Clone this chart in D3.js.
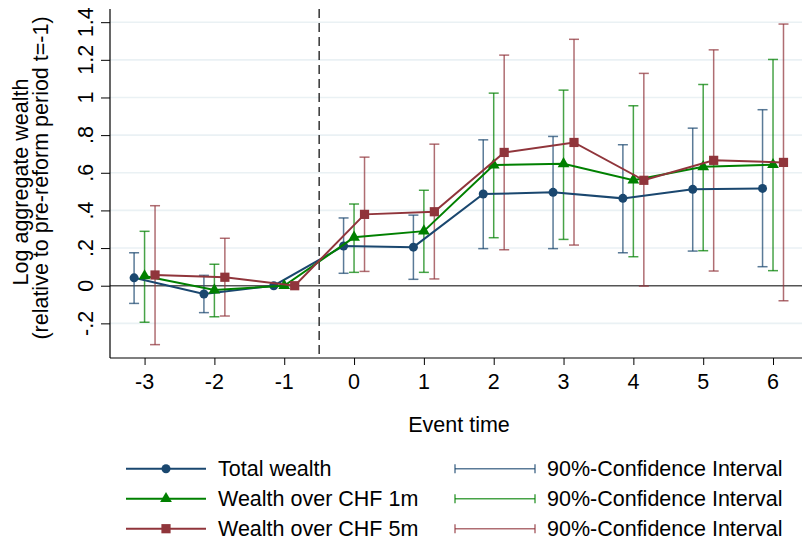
<!DOCTYPE html>
<html>
<head>
<meta charset="utf-8">
<script src="https://cdn.jsdelivr.net/npm/d3@7"></script>
<style>
  body { margin: 0; background: #fff; }
  svg { display: block; }
  text { font-family: "Liberation Sans", Arial, Helvetica, sans-serif; fill: #000; }
</style>
</head>
<body>
<svg id="chart" width="804" height="545"></svg>
<script>
// ---- Data ----
const eventTimes = [-3, -2, -1, 0, 1, 2, 3, 4, 5, 6];

const totalWealth   = [0.042, -0.044, 0, 0.211, 0.205, 0.487, 0.496, 0.464, 0.512, 0.517];
const totalLo       = [-0.094, -0.143, 0, 0.066, 0.034, 0.197, 0.197, 0.175, 0.184, 0.101];
const totalHi       = [0.175, 0.055, 0, 0.360, 0.375, 0.775, 0.793, 0.749, 0.837, 0.935];

const over1m        = [0.052, -0.023, 0, 0.257, 0.290, 0.641, 0.648, 0.561, 0.632, 0.643];
const over1mLo      = [-0.194, -0.165, 0, 0.071, 0.071, 0.255, 0.246, 0.154, 0.186, 0.080];
const over1mHi      = [0.289, 0.114, 0, 0.434, 0.507, 1.023, 1.039, 0.956, 1.069, 1.202];

const over5m        = [0.057, 0.045, 0, 0.379, 0.393, 0.708, 0.761, 0.560, 0.666, 0.655];
const over5mLo      = [-0.313, -0.161, 0, 0.076, 0.036, 0.191, 0.216, -0.002, 0.078, -0.080];
const over5mHi      = [0.425, 0.252, 0, 0.683, 0.752, 1.225, 1.309, 1.128, 1.253, 1.390];

const seriesNames   = ["Total wealth", "Wealth over CHF 1m", "Wealth over CHF 5m"];
const ciLabel       = "90%-Confidence Interval";
const yTickValues   = [-0.2, 0, 0.2, 0.4, 0.6, 0.8, 1, 1.2, 1.4];
const yTickLabels   = ["-.2", "0", ".2", ".4", ".6", ".8", "1", "1.2", "1.4"];
const xTickValues   = [-3, -2, -1, 0, 1, 2, 3, 4, 5, 6];
const reformLine    = -0.5;
const xTitle        = "Event time";
const yTitle1       = "Log aggregate wealth";
const yTitle2       = "(relative to pre-reform period t=-1)";

// ---- Layout ----
const colors = ["#1a476f", "#008000", "#90353b"];
const shapes = ["circle", "triangle", "square"];
const offsets = [-0.15, 0, 0.15];
const FS = 21.5;

const svg = d3.select("#chart");
const pL = 110, pR = 802, pT = 9, pB = 358;

const x = d3.scaleLinear().domain([-3.495, 6.415]).range([pL, pR]);
const y = d3.scaleLinear().domain([-0.384, 1.47]).range([pB, pT]);

const series = [
  { name: seriesNames[0], v: totalWealth, lo: totalLo, hi: totalHi },
  { name: seriesNames[1], v: over1m, lo: over1mLo, hi: over1mHi },
  { name: seriesNames[2], v: over5m, lo: over5mLo, hi: over5mHi }
];

// Grid lines
svg.append("g").selectAll("line").data(yTickValues.filter(d => d !== 0)).join("line")
  .attr("x1", pL).attr("x2", pR)
  .attr("y1", d => y(d)).attr("y2", d => y(d))
  .attr("stroke", "#eaf1f4").attr("stroke-width", 1.6);

// Zero line
svg.append("line").attr("x1", pL).attr("x2", pR)
  .attr("y1", y(0)).attr("y2", y(0))
  .attr("stroke", "#555").attr("stroke-width", 1.5);

// Y axis
const yAxis = d3.axisLeft(y).tickValues(yTickValues).tickSize(9).tickFormat("");
const gy = svg.append("g").attr("transform", `translate(${pL},0)`).call(yAxis);
gy.select(".domain").remove();
gy.selectAll(".tick line").attr("stroke", "#000").attr("stroke-width", 1);
svg.append("line").attr("x1", pL).attr("x2", pL).attr("y1", pT).attr("y2", pB)
  .attr("stroke", "#000").attr("stroke-width", 1.2);
svg.append("g").selectAll("text").data(yTickValues).join("text")
  .attr("x", 93).attr("y", d => y(d))
  .attr("transform", d => `rotate(-90,93,${y(d)})`)
  .attr("text-anchor", "middle")
  .attr("font-size", FS)
  .text((d, i) => yTickLabels[i]);

// X axis
const xAxis = d3.axisBottom(x).tickValues(xTickValues).tickSize(7).tickFormat("");
const gx = svg.append("g").attr("transform", `translate(0,${pB})`).call(xAxis);
gx.select(".domain").remove();
gx.selectAll(".tick line").attr("stroke", "#000").attr("stroke-width", 1);
svg.append("line").attr("x1", pL).attr("x2", pR).attr("y1", pB).attr("y2", pB)
  .attr("stroke", "#000").attr("stroke-width", 1.2);
svg.append("g").selectAll("text").data(xTickValues).join("text")
  .attr("x", d => x(d)).attr("y", 389)
  .attr("text-anchor", "middle").attr("font-size", FS)
  .text(d => String(d));

// Reform line
svg.append("line").attr("x1", x(reformLine)).attr("x2", x(reformLine))
  .attr("y1", pT).attr("y2", pB)
  .attr("stroke", "#000").attr("stroke-width", 1.2).attr("stroke-dasharray", "9,5");

// Titles
svg.append("text").attr("x", (pL + pR) / 2 + 3).attr("y", 432)
  .attr("text-anchor", "middle").attr("font-size", FS).text(xTitle);
svg.append("text").attr("transform", "translate(28,182) rotate(-90)")
  .attr("text-anchor", "middle").attr("font-size", FS).text(yTitle1);
svg.append("text").attr("transform", "translate(48,178) rotate(-90)")
  .attr("text-anchor", "middle").attr("font-size", FS).text(yTitle2);

// Marker helper
function marker(g, shape, color, cx, cy) {
  if (shape === "circle") {
    g.append("circle").attr("cx", cx).attr("cy", cy).attr("r", 4.5).attr("fill", color);
  } else if (shape === "triangle") {
    g.append("path").attr("d", d3.symbol(d3.symbolTriangle, 60)()).attr("transform", `translate(${cx},${cy})`).attr("fill", color);
  } else {
    g.append("rect").attr("x", cx - 4.6).attr("y", cy - 4.6).attr("width", 9.2).attr("height", 9.2).attr("fill", color);
  }
}

// CIs
series.forEach((s, si) => {
  const g = svg.append("g").attr("stroke", colors[si]).attr("stroke-opacity", 0.72).attr("stroke-width", 1.5);
  eventTimes.forEach((t, i) => {
    if (s.hi[i] === s.lo[i]) return;
    const cx = x(t + offsets[si]);
    g.append("line").attr("x1", cx).attr("x2", cx).attr("y1", y(s.lo[i])).attr("y2", y(s.hi[i]));
    g.append("line").attr("x1", cx - 5).attr("x2", cx + 5).attr("y1", y(s.lo[i])).attr("y2", y(s.lo[i]));
    g.append("line").attr("x1", cx - 5).attr("x2", cx + 5).attr("y1", y(s.hi[i])).attr("y2", y(s.hi[i]));
  });
});

// Lines and markers
series.forEach((s, si) => {
  const line = d3.line().x((d, i) => x(eventTimes[i] + offsets[si])).y(d => y(d));
  svg.append("path").datum(s.v).attr("d", line)
    .attr("fill", "none").attr("stroke", colors[si]).attr("stroke-width", 2);
  const g = svg.append("g");
  s.v.forEach((v, i) => marker(g, shapes[si], colors[si], x(eventTimes[i] + offsets[si]), y(v)));
});

// Legend
const rows = [468.7, 498.7, 528.7];
series.forEach((s, si) => {
  const g = svg.append("g");
  g.append("line").attr("x1", 126).attr("x2", 206).attr("y1", rows[si]).attr("y2", rows[si])
    .attr("stroke", colors[si]).attr("stroke-width", 2);
  marker(g, shapes[si], colors[si], 166, rows[si]);
  g.append("text").attr("x", 218).attr("y", rows[si] + 7.5).attr("font-size", FS).text(s.name);

  const c = svg.append("g").attr("stroke", colors[si]).attr("stroke-opacity", 0.72).attr("stroke-width", 1.5);
  c.append("line").attr("x1", 455).attr("x2", 535).attr("y1", rows[si]).attr("y2", rows[si]);
  c.append("line").attr("x1", 455).attr("x2", 455).attr("y1", rows[si] - 4.5).attr("y2", rows[si] + 4.5);
  c.append("line").attr("x1", 535).attr("x2", 535).attr("y1", rows[si] - 4.5).attr("y2", rows[si] + 4.5);
  svg.append("text").attr("x", 547).attr("y", rows[si] + 7.5).attr("font-size", FS).text(ciLabel);
});
</script>
</body>
</html>
